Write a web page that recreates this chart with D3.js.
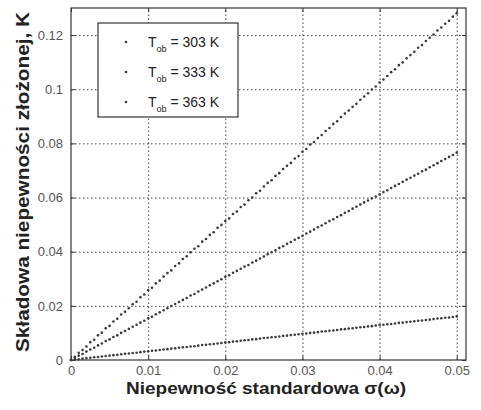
<!DOCTYPE html>
<html>
<head>
<meta charset="utf-8">
<script src="https://cdn.jsdelivr.net/npm/d3@7"></script>
<style>
  body { margin: 0; background: #fff; }
  #graf { width: 481px; height: 410px; }
  text { font-family: "Liberation Sans", Arial, sans-serif; }
</style>
</head>
<body>
<div id="graf"></div>
<script>
// I. Datos

sigma = [0, 0.0005, 0.001, 0.0015, 0.002, 0.0025, 0.003, 0.0035, 0.004, 0.0045,
  0.005, 0.0055, 0.006, 0.0065, 0.007, 0.0075, 0.008, 0.0085, 0.009, 0.0095,
  0.01, 0.0105, 0.011, 0.0115, 0.012, 0.0125, 0.013, 0.0135, 0.014, 0.0145,
  0.015, 0.0155, 0.016, 0.0165, 0.017, 0.0175, 0.018, 0.0185, 0.019, 0.0195,
  0.02, 0.0205, 0.021, 0.0215, 0.022, 0.0225, 0.023, 0.0235, 0.024, 0.0245,
  0.025, 0.0255, 0.026, 0.0265, 0.027, 0.0275, 0.028, 0.0285, 0.029, 0.0295,
  0.03, 0.0305, 0.031, 0.0315, 0.032, 0.0325, 0.033, 0.0335, 0.034, 0.0345,
  0.035, 0.0355, 0.036, 0.0365, 0.037, 0.0375, 0.038, 0.0385, 0.039, 0.0395,
  0.04, 0.0405, 0.041, 0.0415, 0.042, 0.0425, 0.043, 0.0435, 0.044, 0.0445,
  0.045, 0.0455, 0.046, 0.0465, 0.047, 0.0475, 0.048, 0.0485, 0.049, 0.0495,
  0.05]

// T_ob = 303 K
u303 = [0, 0.0002, 0.0003, 0.0005, 0.0007, 0.0008, 0.0010, 0.0011, 0.0013, 0.0015,
  0.0016, 0.0018, 0.0019, 0.0021, 0.0023, 0.0024, 0.0026, 0.0027, 0.0029, 0.0031,
  0.0032, 0.0034, 0.0035, 0.0037, 0.0039, 0.0040, 0.0042, 0.0043, 0.0045, 0.0047,
  0.0048, 0.0050, 0.0051, 0.0053, 0.0055, 0.0056, 0.0058, 0.0059, 0.0061, 0.0063,
  0.0065, 0.0066, 0.0068, 0.0069, 0.0071, 0.0073, 0.0074, 0.0076, 0.0077, 0.0079,
  0.0081, 0.0082, 0.0084, 0.0085, 0.0087, 0.0089, 0.0090, 0.0092, 0.0093, 0.0095,
  0.0097, 0.0098, 0.0100, 0.0101, 0.0103, 0.0105, 0.0106, 0.0108, 0.0109, 0.0111,
  0.0113, 0.0114, 0.0116, 0.0117, 0.0119, 0.0121, 0.0122, 0.0124, 0.0125, 0.0127,
  0.0129, 0.0130, 0.0132, 0.0133, 0.0135, 0.0137, 0.0138, 0.0140, 0.0141, 0.0143,
  0.0145, 0.0146, 0.0148, 0.0149, 0.0151, 0.0153, 0.0154, 0.0156, 0.0157, 0.0159,
  0.0161]

// T_ob = 333 K
u333 = [0, 0.0008, 0.0016, 0.0022, 0.0031, 0.0039, 0.0045, 0.0054, 0.0061, 0.0070,
  0.0076, 0.0085, 0.0091, 0.0100, 0.0107, 0.0115, 0.0123, 0.0130, 0.0138, 0.0145,
  0.0154, 0.0160, 0.0169, 0.0176, 0.0184, 0.0191, 0.0199, 0.0207, 0.0214, 0.0222,
  0.0229, 0.0238, 0.0244, 0.0253, 0.0260, 0.0268, 0.0276, 0.0283, 0.0291, 0.0298,
  0.0307, 0.0313, 0.0322, 0.0329, 0.0337, 0.0345, 0.0351, 0.0360, 0.0367, 0.0375,
  0.0382, 0.0391, 0.0398, 0.0405, 0.0414, 0.0420, 0.0429, 0.0436, 0.0444, 0.0451,
  0.0459, 0.0467, 0.0474, 0.0482, 0.0490, 0.0497, 0.0505, 0.0513, 0.0520, 0.0528,
  0.0535, 0.0544, 0.0550, 0.0559, 0.0566, 0.0574, 0.0582, 0.0589, 0.0597, 0.0604,
  0.0612, 0.0620, 0.0627, 0.0635, 0.0643, 0.0650, 0.0658, 0.0666, 0.0673, 0.0681,
  0.0688, 0.0697, 0.0703, 0.0712, 0.0719, 0.0727, 0.0735, 0.0742, 0.0750, 0.0757,
  0.0766]

// T_ob = 363 K
u363 = [0, 0.0012, 0.0027, 0.0037, 0.0050, 0.0066, 0.0075, 0.0091, 0.0101, 0.0117,
  0.0126, 0.0142, 0.0152, 0.0168, 0.0178, 0.0191, 0.0206, 0.0215, 0.0232, 0.0242,
  0.0258, 0.0267, 0.0283, 0.0293, 0.0308, 0.0321, 0.0331, 0.0347, 0.0357, 0.0373,
  0.0383, 0.0398, 0.0411, 0.0420, 0.0437, 0.0447, 0.0462, 0.0472, 0.0488, 0.0499,
  0.0513, 0.0523, 0.0539, 0.0548, 0.0565, 0.0574, 0.0590, 0.0600, 0.0616, 0.0625,
  0.0641, 0.0654, 0.0664, 0.0680, 0.0690, 0.0705, 0.0717, 0.0728, 0.0744, 0.0753,
  0.0769, 0.0779, 0.0796, 0.0805, 0.0820, 0.0831, 0.0846, 0.0857, 0.0872, 0.0882,
  0.0897, 0.0910, 0.0921, 0.0935, 0.0946, 0.0961, 0.0973, 0.0985, 0.0999, 0.1010,
  0.1025, 0.1036, 0.1049, 0.1063, 0.1074, 0.1089, 0.1099, 0.1114, 0.1126, 0.1138,
  0.1153, 0.1163, 0.1178, 0.1190, 0.1202, 0.1217, 0.1228, 0.1242, 0.1253, 0.1268,
  0.1281]

series = ['303', '333', '363']
seriesValues = [u303, u333, u363]

xTicks = [0, 0.01, 0.02, 0.03, 0.04, 0.05]
xTickLabels = ['0', '0.01', '0.02', '0.03', '0.04', '0.05']
yTicks = [0, 0.02, 0.04, 0.06, 0.08, 0.1, 0.12]
yTickLabels = ['0', '0.02', '0.04', '0.06', '0.08', '0.1', '0.12']

// II. Configuracion

ancho_total = 481
alto_total = 410
margins = { top: 8, left: 71, right: 15, bottom: 50 }
ancho = ancho_total - margins.left - margins.right
alto = alto_total - margins.top - margins.bottom

svg = d3.select('#graf').append('svg')
  .attr('width', ancho_total)
  .attr('height', alto_total)

g = svg.append('g')
  .attr('transform', `translate(${margins.left}, ${margins.top})`)

x = d3.scaleLinear().domain([0, 0.0512]).range([0, ancho])
y = d3.scaleLinear().domain([0, 0.13]).range([alto, 0])

// III. Rejilla (punteada, estilo MATLAB)

g.append('g')
  .call(d3.axisBottom(x).tickValues(xTicks.slice(1)).tickSize(-alto).tickFormat(''))
  .attr('transform', `translate(0, ${alto})`)
  .call(a => a.select('.domain').remove())
  .selectAll('line')
  .attr('stroke', '#444')
  .attr('stroke-dasharray', '1.5,2.5')

g.append('g')
  .call(d3.axisLeft(y).tickValues(yTicks.slice(1)).tickSize(-ancho).tickFormat(''))
  .call(a => a.select('.domain').remove())
  .selectAll('line')
  .attr('stroke', '#444')
  .attr('stroke-dasharray', '1.5,2.5')

// IV. Ejes (ticks hacia dentro)

xAxis = g.append('g')
  .attr('transform', `translate(0, ${alto})`)
  .call(d3.axisBottom(x).tickValues(xTicks).tickSize(-4)
    .tickFormat((d, i) => xTickLabels[i]))
xAxis.select('.domain').remove()
xAxis.selectAll('text').attr('y', 15).attr('dy', null)

yAxis = g.append('g')
  .call(d3.axisLeft(y).tickValues(yTicks).tickSize(-4).tickPadding(8)
    .tickFormat((d, i) => yTickLabels[i]))
yAxis.select('.domain').remove()

// ticks del lado derecho y superior
g.append('g')
  .attr('transform', `translate(${ancho}, 0)`)
  .call(d3.axisRight(y).tickValues(yTicks).tickSize(-4).tickFormat(''))
  .select('.domain').remove()
g.append('g')
  .call(d3.axisTop(x).tickValues(xTicks).tickSize(-4).tickFormat(''))
  .select('.domain').remove()

g.selectAll('.tick line').filter(function() { return !this.getAttribute('stroke-dasharray') })
  .attr('stroke', '#333')

g.selectAll('.tick text')
  .style('font-size', '13px')
  .attr('fill', '#555')

// marco
g.append('rect')
  .attr('x', 0).attr('y', 0)
  .attr('width', ancho).attr('height', alto)
  .attr('fill', 'none')
  .attr('stroke', '#333')
  .attr('stroke-width', 1.2)

// V. Puntos

seriesValues.forEach((vals, s) => {
  g.append('g')
    .selectAll('circle')
    .data(vals)
    .enter()
    .append('circle')
    .attr('cx', (d, i) => x(sigma[i]))
    .attr('cy', d => y(d))
    .attr('r', 1.3)
    .attr('fill', '#3a3a3a')
})

// VI. Leyenda

leg = g.append('g')
  .attr('transform', `translate(${98 - margins.left}, ${23 - margins.top})`)

leg.append('rect')
  .attr('width', 140).attr('height', 94)
  .attr('fill', '#fff')
  .attr('stroke', '#333')
  .attr('stroke-width', 1.2)

series.forEach((s, i) => {
  row = leg.append('g').attr('transform', `translate(0, ${19 + i * 30})`)
  row.append('circle')
    .attr('cx', 28).attr('cy', 0).attr('r', 1.3)
    .attr('fill', '#3a3a3a')
  t = row.append('text')
    .attr('x', 50).attr('y', 5)
    .attr('fill', '#222')
    .style('font-size', '14px')
  t.append('tspan').text('T')
  t.append('tspan').attr('dy', 5).style('font-size', '9px').text('ob')
  t.append('tspan').attr('dy', -5).text(` = ${s} K`)
})

// VII. Titulos de ejes

svg.append('text')
  .attr('x', 266)
  .attr('y', 394)
  .attr('text-anchor', 'middle')
  .attr('textLength', 280)
  .attr('lengthAdjust', 'spacingAndGlyphs')
  .attr('fill', '#222')
  .style('font-size', '16.5px')
  .style('font-weight', 'bold')
  .text('Niepewność standardowa σ(ω)')

svg.append('text')
  .attr('transform', 'translate(29, 182) rotate(-90)')
  .attr('text-anchor', 'middle')
  .attr('textLength', 340)
  .attr('lengthAdjust', 'spacingAndGlyphs')
  .attr('fill', '#222')
  .style('font-size', '19px')
  .style('font-weight', 'bold')
  .text('Składowa niepewności złożonej, K')
</script>
</body>
</html>
